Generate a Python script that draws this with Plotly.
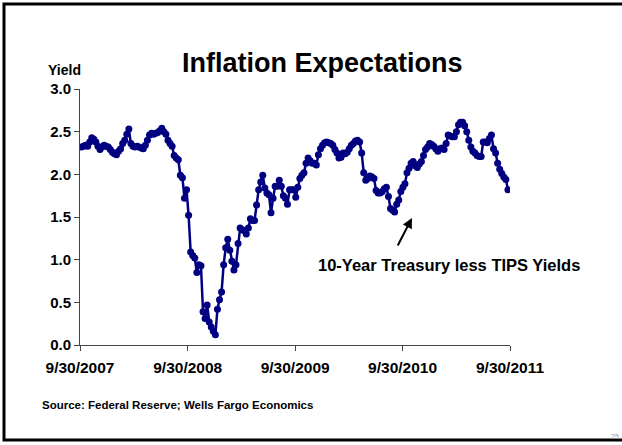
import plotly.graph_objects as go
import pandas as pd

# Weekly 10-Year Treasury less TIPS yield spread
start_date = "2007-10-05"
spread = [
    2.32, 2.33, 2.34, 2.33, 2.38, 2.43, 2.41, 2.38, 2.33, 2.29,
    2.32, 2.34, 2.33, 2.32, 2.29, 2.26, 2.24, 2.23, 2.27, 2.30,
    2.36, 2.40, 2.47, 2.53, 2.36, 2.33, 2.32, 2.33, 2.32, 2.31,
    2.30, 2.34, 2.40, 2.46, 2.48, 2.47, 2.48, 2.49, 2.51, 2.54,
    2.50, 2.47, 2.40, 2.36, 2.33, 2.22, 2.19, 2.17, 1.99, 1.96,
    1.72, 1.82, 1.52, 1.09, 1.05, 1.02, 0.85, 0.94, 0.93, 0.39,
    0.31, 0.47, 0.27, 0.21, 0.16, 0.12, 0.42, 0.53, 0.62, 0.94,
    1.14, 1.24, 1.11, 0.98, 0.88, 0.94, 1.19, 1.37, 1.35, 1.34,
    1.30, 1.37, 1.48, 1.46, 1.46, 1.64, 1.82, 1.91, 1.99, 1.84,
    1.78, 1.76, 1.55, 1.72, 1.86, 1.86, 1.93, 1.86, 1.75, 1.72,
    1.65, 1.82, 1.82, 1.82, 1.73, 1.85, 1.95, 1.99, 2.02, 2.13,
    2.19, 2.16, 2.13, 2.13, 2.11, 2.23, 2.30, 2.34, 2.37, 2.38,
    2.37, 2.36, 2.34, 2.29, 2.25, 2.19, 2.20, 2.25, 2.24, 2.26,
    2.30, 2.34, 2.36, 2.39, 2.40, 2.38, 2.25, 2.02, 1.93, 1.95,
    1.98, 1.97, 1.95, 1.81, 1.78, 1.78, 1.80, 1.83, 1.85, 1.74,
    1.60, 1.58, 1.56, 1.65, 1.70, 1.80, 1.85, 1.89, 2.02, 2.07,
    2.13, 2.15, 2.10, 2.08, 2.12, 2.15, 2.22, 2.29, 2.32, 2.36,
    2.35, 2.33, 2.30, 2.27, 2.30, 2.31, 2.29, 2.36, 2.46, 2.45,
    2.44, 2.44, 2.50, 2.58, 2.61, 2.61, 2.57, 2.50, 2.40, 2.32,
    2.27, 2.25, 2.22, 2.21, 2.21, 2.38, 2.38, 2.37, 2.42, 2.46,
    2.30, 2.25, 2.13, 2.06, 2.01, 1.97, 1.94, 1.82,
]
dates = pd.date_range(start_date, periods=len(spread), freq="7D")

x_tick_vals = ["2007-09-30", "2008-09-30", "2009-09-30", "2010-09-30", "2011-09-30"]
x_tick_text = ["9/30/2007", "9/30/2008", "9/30/2009", "9/30/2010", "9/30/2011"]
y_tick_vals = [0.0, 0.5, 1.0, 1.5, 2.0, 2.5, 3.0]

FONT = "Liberation Sans, Arial, sans-serif"
NAVY = "#000080"

fig = go.Figure()
fig.add_trace(go.Scatter(
    x=dates, y=spread, mode="lines+markers",
    line=dict(color=NAVY, width=2.5),
    marker=dict(color=NAVY, size=7),
    showlegend=False, hoverinfo="skip",
))

fig.update_layout(
    width=622, height=445,
    margin=dict(l=80, r=112, t=89, b=100),
    paper_bgcolor="white", plot_bgcolor="white",
    font=dict(family=FONT, color="black"),
    xaxis=dict(
        range=["2007-09-30", "2011-09-30"],
        tickvals=x_tick_vals, ticktext=x_tick_text,
        tickfont=dict(size=15.5, weight="bold", family=FONT),
        ticks="outside", ticklen=5, tickcolor="#444",
        ticklabelstandoff=3,
        showline=True, linecolor="#444", linewidth=1,
        showgrid=False, zeroline=False,
    ),
    yaxis=dict(
        range=[0, 3], tickvals=y_tick_vals, tickformat=".1f",
        tickfont=dict(size=15, weight="bold", family=FONT),
        ticks="outside", ticklen=5, tickcolor="#444",
        showline=True, linecolor="#444", linewidth=1,
        showgrid=False, zeroline=False,
    ),
)

annotations = [
    dict(text="Inflation Expectations", xref="paper", yref="paper",
         x=0.563, y=1.10, xanchor="center", yanchor="middle", showarrow=False,
         font=dict(family=FONT, size=27, weight="bold", color="black")),
    dict(text="Yield", xref="paper", yref="paper",
         x=-0.037, y=1.074, xanchor="center", yanchor="middle", showarrow=False,
         font=dict(family=FONT, size=14, weight="bold")),
    dict(text="10-Year Treasury less TIPS Yields", xref="paper", yref="paper",
         x=0.859, y=0.3125, xanchor="center", yanchor="middle", showarrow=False,
         font=dict(family=FONT, size=16.5, weight="bold")),
    dict(text="", xref="paper", yref="paper", x=0.772, y=0.496,
         ax=-15, ay=29, showarrow=True, arrowhead=2, arrowsize=1,
         arrowwidth=2, arrowcolor="black"),
    dict(text="Source: Federal Reserve; Wells Fargo Economics", xref="paper", yref="paper",
         x=-0.093, y=-0.234, xanchor="left", yanchor="middle", showarrow=False,
         font=dict(family=FONT, size=11.5, weight="bold")),
    dict(text="25", xref="paper", yref="paper",
         x=(621 - 80) / 430, y=(345 - 436) / 256, xanchor="right", yanchor="middle",
         showarrow=False, font=dict(family=FONT, size=7, color="#999")),
]
fig.update_layout(annotations=annotations)

# slide frame
fig.add_shape(type="rect", xref="paper", yref="paper",
              x0=(4 - 80) / 430, x1=(640 - 80) / 430,
              y0=(345 - 440) / 256, y1=(345 - 4) / 256,
              line=dict(color="black", width=3), fillcolor="rgba(0,0,0,0)", layer="below")

fig.write_html("out.html", config={"displayModeBar": False},
               post_script="document.body.style.margin='0';")
